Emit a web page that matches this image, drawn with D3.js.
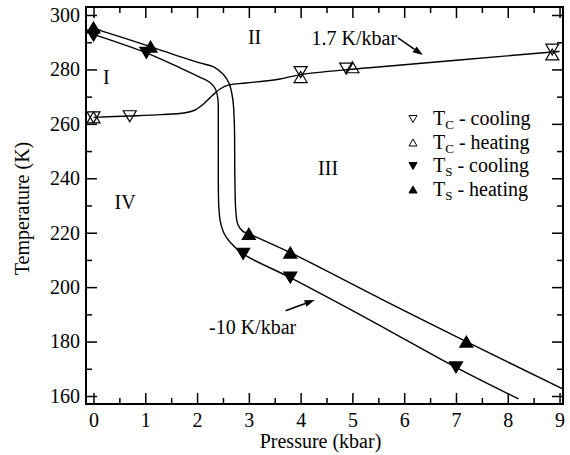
<!DOCTYPE html>
<html>
<head>
<meta charset="utf-8">
<script src="https://d3js.org/d3.v7.min.js"></script>
<style>
    body { margin: 0; background: #fff; }
    svg { display: block; font-family: "Liberation Serif", "Times New Roman", serif; }
</style>
</head>
<body>
<svg id="chart"></svg>
<script>
// markers: [pressure kbar, temperature K]
var tcCooling = [[0, 262.4], [0.7, 262.8], [4.0, 279.0], [4.88, 280.3], [8.86, 287.3]];
var tcHeating = [[0, 262.4], [4.0, 277.2], [5.0, 280.8], [8.86, 285.5]];
var tsCooling = [[0, 292.4], [1.02, 286.1], [2.89, 212.2], [3.8, 203.5], [7.0, 170.5]];
var tsHeating = [[0, 295.4], [1.1, 288.4], [3.0, 219.6], [3.8, 212.7], [7.2, 180.0]];

// phase boundaries (hand traced)
var tsHeatLine = [[0, 295.1], [1.1, 288.4], [1.67, 284.7], [2.05, 282.4], [2.31, 281.0], [2.5, 278.3],
    [2.62, 274.8], [2.69, 269], [2.72, 260], [2.73, 240], [2.75, 227.5], [2.79, 222.9], [2.88, 220.6],
    [3.0, 219.6], [3.8, 212.7], [5.53, 195.9], [7.2, 180.0], [9.07, 162.5]];
var tsCoolLine = [[0, 292.9], [1.02, 286.1], [1.67, 280.6], [2.05, 277.2], [2.25, 275.2], [2.35, 273.0],
    [2.40, 269.5], [2.41, 262], [2.41, 240], [2.42, 229.5], [2.45, 224], [2.52, 219.8], [2.63, 216.7],
    [2.89, 212.2], [3.8, 203.5], [5.33, 188.0], [7.0, 170.5], [8.21, 158.9]];
var tcLine = [[0, 262.4], [0.7, 262.9], [1.3, 263.4], [1.75, 264.0], [1.95, 265.0], [2.12, 267.2],
    [2.3, 270.5], [2.45, 272.9], [2.62, 274.3], [2.95, 275.0], [3.6, 276.5], [4.0, 278.1],
    [4.95, 280.0], [5.33, 280.6], [8.86, 286.4], [9.0, 286.6]];

var xTicks = [0, 1, 2, 3, 4, 5, 6, 7, 8, 9];
var xMinor = [0.5, 1.5, 2.5, 3.5, 4.5, 5.5, 6.5, 7.5, 8.5];
var yTicks = [160, 180, 200, 220, 240, 260, 280, 300];
var yMinor = [170, 190, 210, 230, 250, 270, 290];

// region names and annotations, in data units
var regionNames = ["I", "II", "III", "IV"];
var regionPos = [[0.25, 277.3], [3.11, 292.0], [4.53, 243.7], [0.61, 231.4]];
var slopeLabels = ["1.7 K/kbar", "-10 K/kbar"];
var slopeLabelPos = [[4.21, 289.0], [2.23, 182.8]];
var slopeArrows = [[[5.88, 291.6], [6.36, 285.3]], [[3.71, 191.3], [4.27, 195.3]]];

var legendSubs = ["C", "C", "S", "S"];
var legendTexts = [" - cooling", " - heating", " - cooling", " - heating"];

var W = 570, H = 455;
var mLeft = 86, mTop = 7, mRight = 563, mBottom = 404;

var svg = d3.select("#chart").attr("width", W).attr("height", H);

var x = d3.scaleLinear().domain([-0.145, 9.067]).range([mLeft, mRight]);
var y = d3.scaleLinear().domain([157.06, 302.94]).range([mBottom, mTop]);

svg.append("clipPath").attr("id", "plotclip")
    .append("rect").attr("x", mLeft).attr("y", mTop).attr("width", mRight - mLeft).attr("height", mBottom - mTop);

/* ejes: ticks hacia adentro en los cuatro lados */
function addAxis(axis, tx, ty, labels) {
    var g = svg.append("g").attr("transform", "translate(" + tx + "," + ty + ")").call(axis);
    g.select(".domain").remove();
    g.attr("font-family", null).attr("font-size", 20);
    g.selectAll("line").attr("stroke", "#000").attr("stroke-width", 1.5);
    if (!labels) g.selectAll("text").remove();
    else g.selectAll("text").attr("fill", "#000");
    return g;
}
addAxis(d3.axisBottom(x).tickValues(xTicks).tickSize(-11).tickPadding(9).tickFormat(d3.format("d")), 0, mBottom, true);
addAxis(d3.axisBottom(x).tickValues(xMinor).tickSize(-6), 0, mBottom, false);
addAxis(d3.axisTop(x).tickValues(xTicks).tickSize(-11), 0, mTop, false);
addAxis(d3.axisTop(x).tickValues(xMinor).tickSize(-6), 0, mTop, false);
addAxis(d3.axisLeft(y).tickValues(yTicks).tickSize(-11).tickPadding(6), mLeft, 0, true);
addAxis(d3.axisLeft(y).tickValues(yMinor).tickSize(-6), mLeft, 0, false);
addAxis(d3.axisRight(y).tickValues(yTicks).tickSize(-11), mRight, 0, false);
addAxis(d3.axisRight(y).tickValues(yMinor).tickSize(-6), mRight, 0, false);

svg.append("rect")
    .attr("x", mLeft).attr("y", mTop)
    .attr("width", mRight - mLeft).attr("height", mBottom - mTop)
    .attr("fill", "none").attr("stroke", "#000").attr("stroke-width", 2);

/* lineas de fase */
var line = d3.line().x(d => x(d[0])).y(d => y(d[1])).curve(d3.curveCatmullRom.alpha(0.5));
var lines = svg.append("g").attr("clip-path", "url(#plotclip)");
[tsHeatLine, tsCoolLine, tcLine].forEach(function(pts) {
    lines.append("path").attr("d", line(pts))
        .attr("fill", "none").attr("stroke", "#000").attr("stroke-width", 1.4);
});

/* triangulos */
function tri(cx, cy, w, h, down) {
    var s = down ? -1 : 1;
    return "M" + cx + "," + (cy - s * h / 2) +
        "L" + (cx + w / 2) + "," + (cy + s * h / 2) +
        "L" + (cx - w / 2) + "," + (cy + s * h / 2) + "Z";
}
function drawMarkers(data, down, filled) {
    svg.append("g").selectAll("path").data(data).enter()
        .append("path")
        .attr("d", d => tri(x(d[0]), y(d[1]), 13, 11, down))
        .attr("fill", filled ? "#000" : "none")
        .attr("stroke", "#000")
        .attr("stroke-width", 1.2)
        .attr("stroke-linejoin", "miter");
}
drawMarkers(tcCooling, true, false);
drawMarkers(tcHeating, false, false);
drawMarkers(tsCooling, true, true);
drawMarkers(tsHeating, false, true);

/* etiquetas de regiones */
svg.append("g").selectAll("text").data(regionNames).enter()
    .append("text")
    .attr("x", (d, i) => x(regionPos[i][0]))
    .attr("y", (d, i) => y(regionPos[i][1]))
    .attr("dy", "0.35em")
    .attr("text-anchor", "middle")
    .attr("font-size", 20)
    .text(d => d);

svg.append("g").selectAll("text").data(slopeLabels).enter()
    .append("text")
    .attr("x", (d, i) => x(slopeLabelPos[i][0]))
    .attr("y", (d, i) => y(slopeLabelPos[i][1]))
    .attr("font-size", 20)
    .text(d => d);

/* flechas */
slopeArrows.forEach(function(a) {
    var x0 = x(a[0][0]), y0 = y(a[0][1]), x1 = x(a[1][0]), y1 = y(a[1][1]);
    var ang = Math.atan2(y1 - y0, x1 - x0);
    var len = 10, half = 3.5;
    var bx = x1 - len * Math.cos(ang), by = y1 - len * Math.sin(ang);
    svg.append("line").attr("x1", x0).attr("y1", y0).attr("x2", bx).attr("y2", by)
        .attr("stroke", "#000").attr("stroke-width", 1.5);
    svg.append("path")
        .attr("d", "M" + x1 + "," + y1 +
            "L" + (bx + half * Math.sin(ang)) + "," + (by - half * Math.cos(ang)) +
            "L" + (bx - half * Math.sin(ang)) + "," + (by + half * Math.cos(ang)) + "Z")
        .attr("fill", "#000");
});

/* leyenda */
var legend = svg.append("g").attr("transform", "translate(413,125)");
var rows = legend.selectAll("g").data(legendSubs).enter()
    .append("g").attr("transform", (d, i) => "translate(0," + (i * 23.5) + ")");
rows.append("path")
    .attr("d", (d, i) => tri(0, -6, 8, 7, i % 2 === 0))
    .attr("fill", (d, i) => i >= 2 ? "#000" : "none")
    .attr("stroke", "#000").attr("stroke-width", 1);
var lt = rows.append("text").attr("x", 20).attr("y", 0).attr("font-size", 20)
    .style("white-space", "pre");
lt.append("tspan").text("T");
lt.append("tspan").attr("font-size", 13).attr("dy", 4).text(d => d);
lt.append("tspan").attr("dy", -4).text((d, i) => legendTexts[i]);

/* titulos de ejes */
svg.append("text")
    .attr("x", (mLeft + mRight) / 2 - 4).attr("y", 448)
    .attr("text-anchor", "middle").attr("font-size", 20)
    .text("Pressure (kbar)");
svg.append("text")
    .attr("transform", "translate(29," + ((mTop + mBottom) / 2 + 3) + ") rotate(-90)")
    .attr("text-anchor", "middle").attr("font-size", 20)
    .text("Temperature (K)");
</script>
</body>
</html>
